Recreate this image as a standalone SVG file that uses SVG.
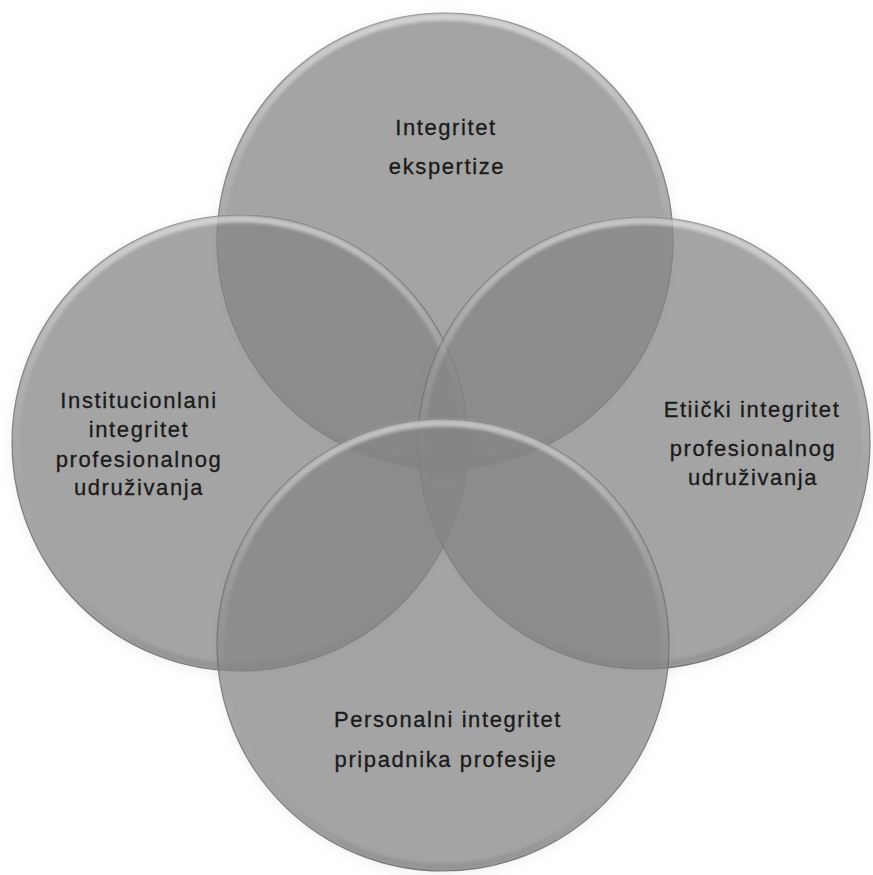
<svg xmlns="http://www.w3.org/2000/svg" width="873" height="875" viewBox="0 0 873 875">
  <style>
    .disk { fill: #858585; fill-opacity: 0.71; stroke: #6a6a6a; stroke-opacity: 0.8; stroke-width: 1.2; }
    .hl { fill: none; stroke: url(#hlGrad); stroke-width: 7; filter: url(#soft); }
    .lbl { font-family: "Liberation Sans", "Open Sans", Arial, sans-serif; font-size: 22px; letter-spacing: 1.6px; fill: #1a1a1a; stroke: #1a1a1a; stroke-width: 0.3; text-anchor: middle; }
  </style>
  <defs>
    <linearGradient id="hlGrad" x1="0" y1="0" x2="0" y2="1">
      <stop offset="0" stop-color="#ffffff" stop-opacity="0.5"/>
      <stop offset="0.35" stop-color="#ffffff" stop-opacity="0.12"/>
      <stop offset="0.6" stop-color="#ffffff" stop-opacity="0"/>
      <stop offset="1" stop-color="#000000" stop-opacity="0.1"/>
    </linearGradient>
    <filter id="soft" x="-10%" y="-10%" width="120%" height="120%">
      <feGaussianBlur stdDeviation="1.5"/>
    </filter>
    <filter id="shadow" x="-20%" y="-20%" width="140%" height="140%">
      <feGaussianBlur stdDeviation="6"/>
    </filter>
  </defs>
  <rect width="873" height="875" fill="#ffffff"/>

  <g id="shadow-layer" fill="#000000" fill-opacity="0.05" filter="url(#shadow)">
    <circle cx="445" cy="243" r="230"/>
    <circle cx="240" cy="445" r="230"/>
    <circle cx="644" cy="445" r="228"/>
    <circle cx="443" cy="647" r="228"/>
  </g>

  <g id="connectors"></g>

  <g id="node-top">
    <circle class="disk" cx="445" cy="241" r="228"/>
    <circle class="hl" cx="445" cy="241" r="224"/>
    <text class="lbl" x="446" y="135">Integritet</text>
    <text class="lbl" x="447" y="174">ekspertize</text>
  </g>

  <g id="node-left">
    <circle class="disk" cx="240" cy="443" r="228"/>
    <circle class="hl" cx="240" cy="443" r="224"/>
    <text class="lbl" x="139" y="408">Institucionlani</text>
    <text class="lbl" x="139" y="437">integritet</text>
    <text class="lbl" x="139" y="467">profesionalnog</text>
    <text class="lbl" x="139" y="495">udruživanja</text>
  </g>

  <g id="node-right">
    <circle class="disk" cx="644" cy="443" r="226"/>
    <circle class="hl" cx="644" cy="443" r="222"/>
    <text class="lbl" x="752" y="417">Etiički integritet</text>
    <text class="lbl" x="753" y="456">profesionalnog</text>
    <text class="lbl" x="753" y="485">udruživanja</text>
  </g>

  <g id="node-bottom">
    <circle class="disk" cx="443" cy="645" r="226"/>
    <circle class="hl" cx="443" cy="645" r="222"/>
    <text class="lbl" x="448" y="727">Personalni integritet</text>
    <text class="lbl" x="446" y="767">pripadnika profesije</text>
  </g>
</svg>
